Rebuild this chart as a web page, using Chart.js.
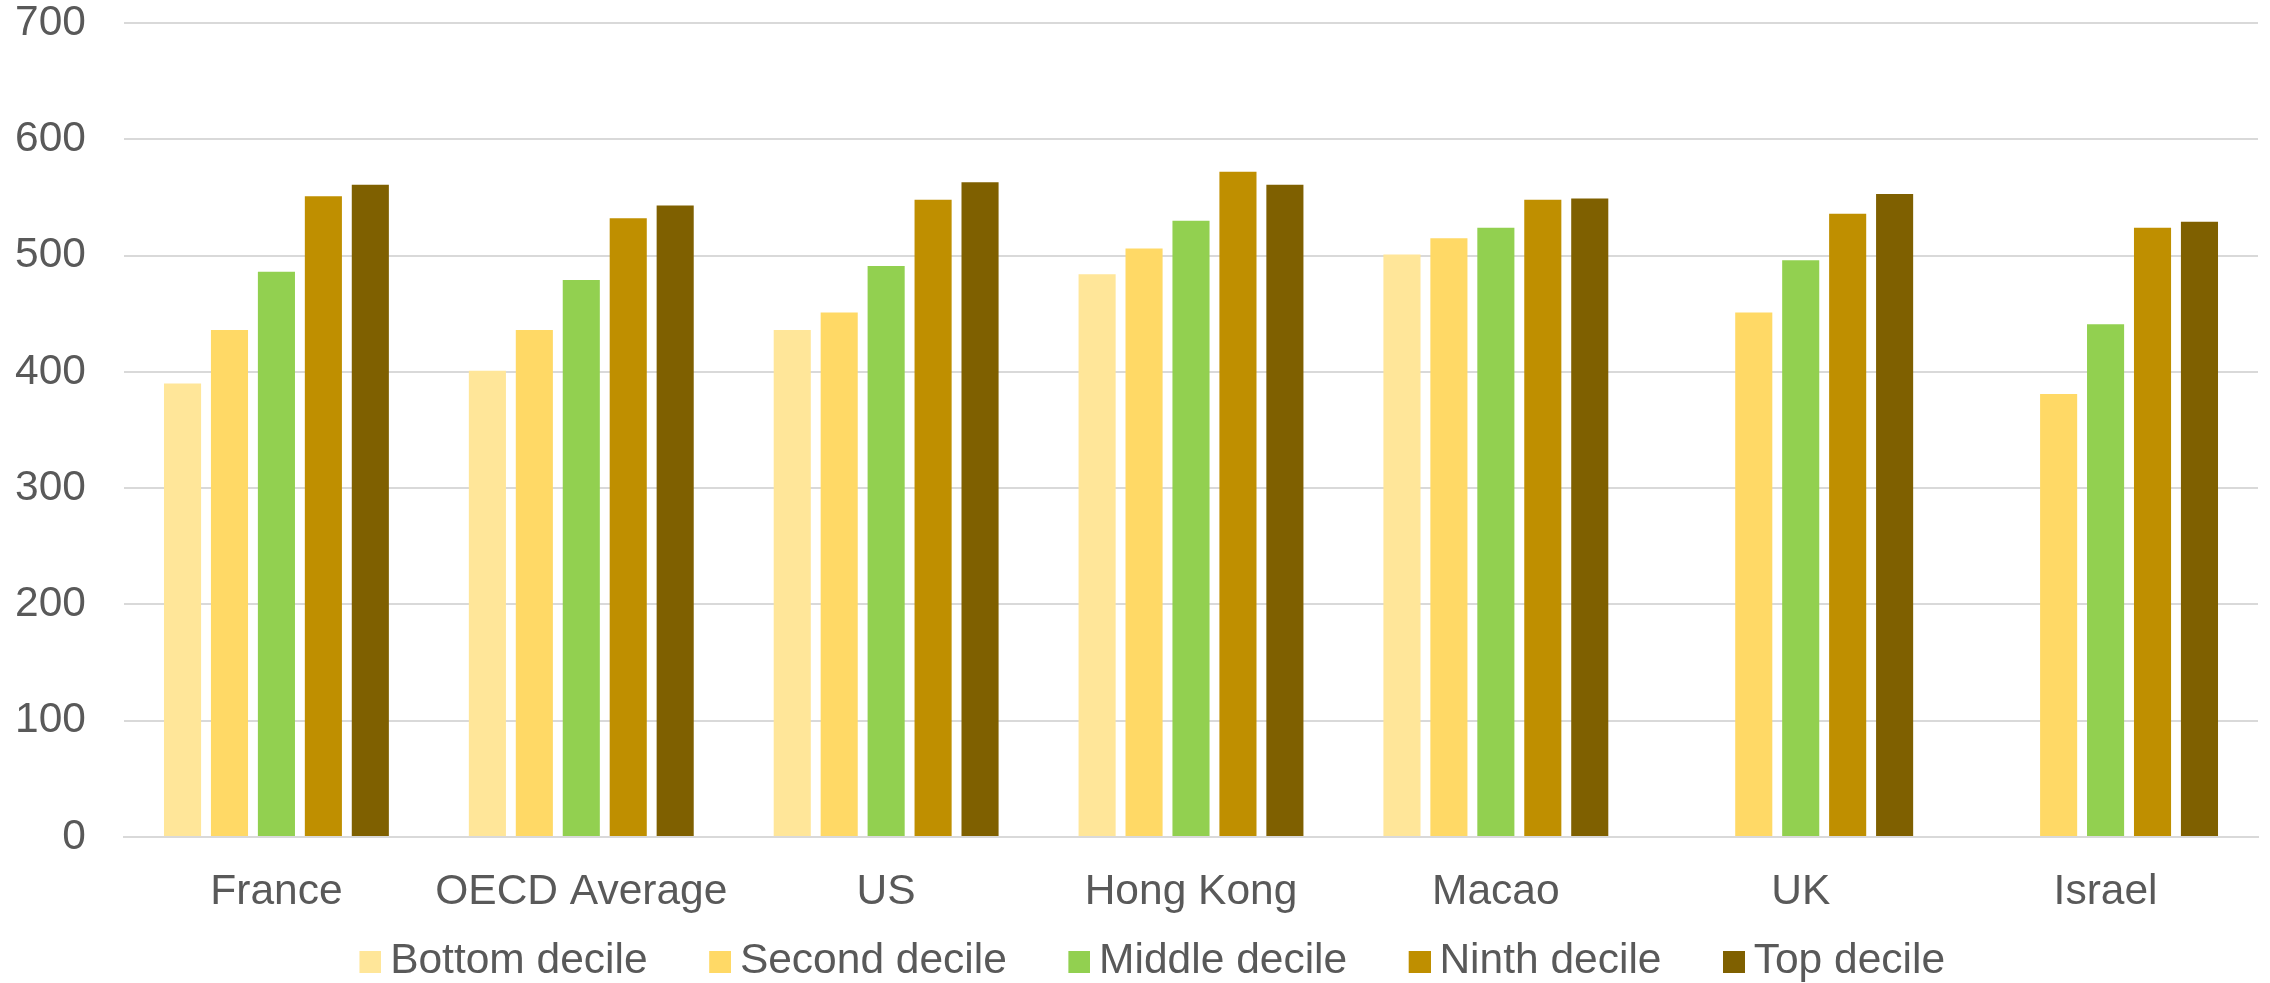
<!DOCTYPE html>
<html>
<head>
<meta charset="utf-8">
<script src="https://cdn.jsdelivr.net/npm/chart.js@4/dist/chart.umd.min.js"></script>
<style>
  html, body { margin: 0; padding: 0; background: #fff; }
  #wrap { width: 2270px; height: 983px; }
</style>
</head>
<body>
<div id="wrap"><canvas id="myChart" width="2270" height="983"></canvas></div>
<script>
// chart data
var countries = ['France', 'OECD Average', 'US', 'Hong Kong', 'Macao', 'UK', 'Israel'];
var seriesNames = ['Bottom decile', 'Second decile', 'Middle decile', 'Ninth decile', 'Top decile'];
var bottomDecile = [390, 401, 436, 484, 501, null, null];
var secondDecile = [436, 436, 451, 506, 515, 451, 381];
var middleDecile = [486, 479, 491, 530, 524, 496, 441];
var ninthDecile  = [551, 532, 548, 572, 548, 536, 524];
var topDecile    = [561, 543, 563, 561, 549, 553, 529];
var yTicks = [0, 100, 200, 300, 400, 500, 600, 700];
var colors = ['#FFE699', '#FFD966', '#92D050', '#BF8F00', '#7F6000'];

// legend swatch: transparent space on the left, 22px square on the right
function swatch(color) {
  var c = document.createElement('canvas');
  c.width = 81;
  c.height = 22;
  var g = c.getContext('2d');
  g.fillStyle = color;
  g.fillRect(59, 0, 22, 22);
  return c;
}

document.addEventListener('DOMContentLoaded', function() {
  var ctx = document.getElementById('myChart').getContext('2d');
  var font = { family: '"Liberation Sans", Arial, sans-serif', size: 42.5 };
  var grey = '#595959';
  var swatches = colors.map(swatch);

  var allData = [bottomDecile, secondDecile, middleDecile, ninthDecile, topDecile];
  var datasets = allData.map(function(d, i) {
    return {
      label: seriesNames[i],
      data: d,
      backgroundColor: colors[i],
      borderWidth: 0,
      categoryPercentage: 0.77,
      barPercentage: 0.79
    };
  });

  var myChart = new Chart(ctx, {
    type: 'bar',
    data: { labels: countries, datasets: datasets },
    options: {
      responsive: false,
      animation: false,
      layout: { padding: { left: 0, right: 12, top: 0, bottom: -10 } },
      plugins: {
        tooltip: { enabled: false },
        legend: {
          position: 'bottom',
          labels: {
            usePointStyle: true,
            pointStyleWidth: 56,
            boxHeight: 22,
            padding: 15,
            color: grey,
            font: font,
            generateLabels: function(chart) {
              var items = Chart.defaults.plugins.legend.labels.generateLabels(chart);
              items.forEach(function(item, i) { item.pointStyle = swatches[i]; });
              return items;
            }
          }
        }
      },
      scales: {
        x: {
          grid: { display: false, drawTicks: false },
          border: { display: true, color: '#D9D9D9', width: 2 },
          ticks: { color: grey, font: font, padding: 30, maxRotation: 0, autoSkip: false },
          afterFit: function(axis) { axis.height = 88.5; }
        },
        y: {
          min: 0,
          max: 700,
          afterBuildTicks: function(axis) {
            axis.ticks = yTicks.map(function(v) { return { value: v }; });
          },
          grid: { color: '#D9D9D9', lineWidth: 2, drawTicks: false },
          border: { display: false },
          ticks: { color: grey, font: font, padding: 38 },
          afterFit: function(axis) {
            axis.width = 124;
            axis.paddingTop = 23;
            axis.paddingBottom = 0;
          }
        }
      }
    }
  });
});
</script>
</body>
</html>
